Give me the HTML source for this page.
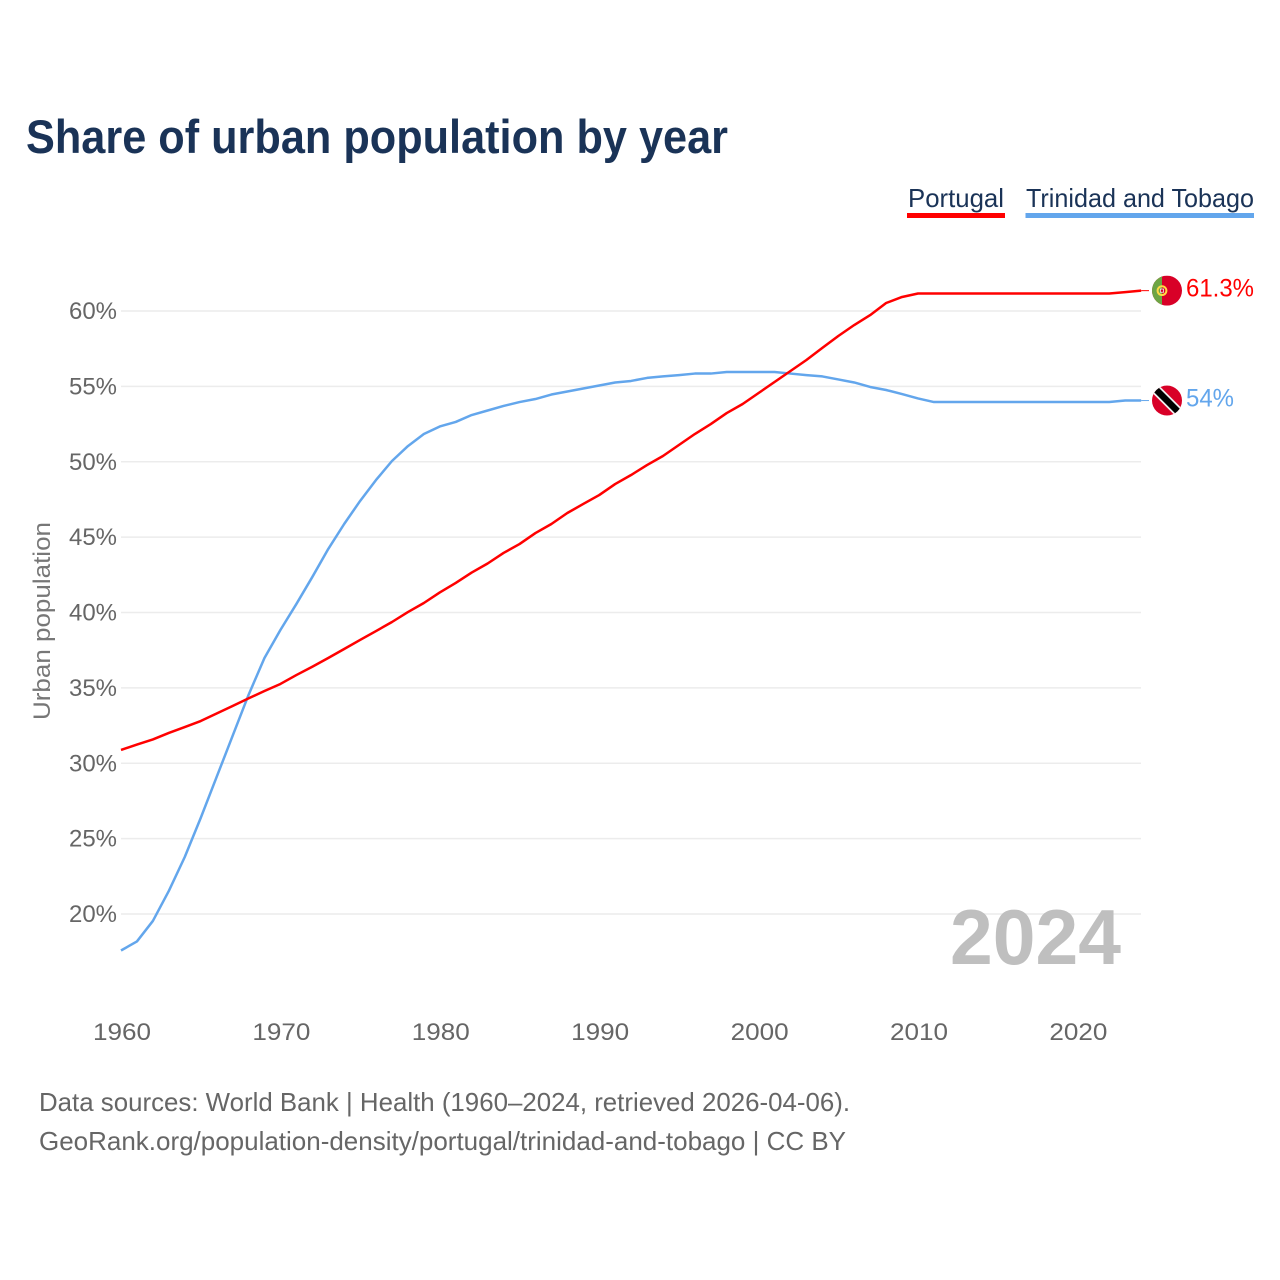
<!DOCTYPE html>
<html lang="en">
<head>
<meta charset="utf-8">
<title>Share of urban population by year</title>
<style>
html,body{margin:0;padding:0;background:#fff;width:1280px;height:1280px;overflow:hidden}
svg{display:block;font-family:"Liberation Sans",sans-serif}
</style>
</head>
<body>
<svg id="chart" width="1280" height="1280" viewBox="0 0 1280 1280" xmlns="http://www.w3.org/2000/svg">
  <rect width="1280" height="1280" fill="#fff"/>
  <text x="26" y="153" font-size="47" font-weight="700" fill="#1a3357" textLength="702" lengthAdjust="spacingAndGlyphs">Share of urban population by year</text>

  <g>
    <text x="908" y="207" font-size="26" fill="#1a3357" textLength="96" lengthAdjust="spacingAndGlyphs">Portugal</text>
    <rect x="907" y="213" width="98" height="5" fill="#ff0000"/>
  </g>
  <g>
    <text x="1026" y="207" font-size="26" fill="#1a3357" textLength="228" lengthAdjust="spacingAndGlyphs">Trinidad and Tobago</text>
    <rect x="1025.5" y="213" width="228.5" height="5" fill="#63a6ec"/>
  </g>

  <g id="grid"></g>
  <g id="yticks"></g>
  <g id="xticks"></g>

  <text transform="translate(50,720) rotate(-90)" x="0" y="0" font-size="24" fill="#777" textLength="198" lengthAdjust="spacingAndGlyphs">Urban population</text>

  <text x="950" y="964" font-size="78" font-weight="700" fill="#bfbfbf" textLength="171" lengthAdjust="spacingAndGlyphs">2024</text>

  <g id="series"></g>

  <defs>
    <clipPath id="flag-clip"><circle cx="0" cy="0" r="15"/></clipPath>
  </defs>

  <g id="flag-pt">
    <g clip-path="url(#flag-clip)">
      <rect x="-15" y="-15" width="30" height="30" fill="#d80027"/>
      <rect x="-15" y="-15" width="10" height="30" fill="#6da544"/>
      <circle cx="-5" cy="0" r="4.4" fill="none" stroke="#ffda44" stroke-width="2"/>
      <rect x="-6.6" y="-1.6" width="3.2" height="3.2" fill="#d80027" stroke="#eee" stroke-width="0.8"/>
    </g>
  </g>
  <g id="flag-tt">
    <g clip-path="url(#flag-clip)">
      <rect x="-15" y="-15" width="30" height="30" fill="#d80027"/>
      <line x1="-15" y1="-15" x2="15" y2="15" stroke="#f0f0f0" stroke-width="10"/>
      <line x1="-15" y1="-15" x2="15" y2="15" stroke="#000" stroke-width="6.5"/>
    </g>
  </g>

  <text x="39" y="1111" font-size="26" fill="#666" textLength="811" lengthAdjust="spacingAndGlyphs">Data sources: World Bank | Health (1960–2024, retrieved 2026-04-06).</text>
  <a><text x="39" y="1150" font-size="26" fill="#666" textLength="807" lengthAdjust="spacingAndGlyphs">GeoRank.org/population-density/portugal/trinidad-and-tobago | CC BY</text></a>
</svg>

<script>
const years = [1960,1961,1962,1963,1964,1965,1966,1967,1968,1969,1970,1971,1972,1973,1974,1975,1976,1977,1978,1979,1980,1981,1982,1983,1984,1985,1986,1987,1988,1989,1990,1991,1992,1993,1994,1995,1996,1997,1998,1999,2000,2001,2002,2003,2004,2005,2006,2007,2008,2009,2010,2011,2012,2013,2014,2015,2016,2017,2018,2019,2020,2021,2022,2023,2024];
const portugal = [30.88,31.24,31.58,32.01,32.4,32.8,33.3,33.8,34.3,34.79,35.26,35.85,36.4,36.98,37.58,38.18,38.77,39.37,40.03,40.63,41.33,41.96,42.65,43.25,43.95,44.54,45.27,45.87,46.6,47.2,47.79,48.52,49.12,49.78,50.38,51.11,51.84,52.5,53.23,53.83,54.56,55.29,56.02,56.75,57.55,58.34,59.07,59.73,60.53,60.93,61.16,61.16,61.16,61.16,61.16,61.16,61.16,61.16,61.16,61.16,61.16,61.16,61.16,61.25,61.35];
const trinidad = [17.58,18.18,19.54,21.53,23.78,26.37,29.09,31.81,34.53,36.98,38.84,40.56,42.35,44.21,45.87,47.4,48.79,50.05,51.04,51.84,52.34,52.64,53.1,53.4,53.7,53.96,54.16,54.46,54.66,54.86,55.06,55.26,55.36,55.56,55.66,55.75,55.85,55.85,55.95,55.95,55.95,55.95,55.85,55.75,55.66,55.46,55.26,54.96,54.76,54.49,54.2,53.96,53.96,53.96,53.96,53.96,53.96,53.96,53.96,53.96,53.96,53.96,53.96,54.06,54.06];
const yTickValues = [20,25,30,35,40,45,50,55,60];
const yTickLabels = ['20%','25%','30%','35%','40%','45%','50%','55%','60%'];
const xTickValues = [1960,1970,1980,1990,2000,2010,2020];
const xTickLabels = ['1960','1970','1980','1990','2000','2010','2020'];
const portugalLabel = '61.3%';
const trinidadLabel = '54%';

const NS = 'http://www.w3.org/2000/svg';
const xScale = function (year) { return 121 + (year - 1960) * 15.94; };
const yScale = function (pct) { return 311 + (60 - pct) * 15.075; };

function make(tag, parent, attrs, text) {
  const el = document.createElementNS(NS, tag);
  Object.keys(attrs).forEach(function (k) { el.setAttribute(k, attrs[k]); });
  if (text !== undefined) el.textContent = text;
  parent.appendChild(el);
  return el;
}

const gridLayer = document.getElementById('grid');
const yLayer = document.getElementById('yticks');
const xLayer = document.getElementById('xticks');
const seriesLayer = document.getElementById('series');
const chartRoot = document.getElementById('chart');

yTickValues.forEach(function (v, i) {
  const y = yScale(v);
  const line = make('line', gridLayer, {x1: 121, x2: 1141, y1: y, y2: y, stroke: '#ececec', 'stroke-width': 1.5});
  
  
  const label = make('text', yLayer, {x: 117, y: y + 8, 'text-anchor': 'end', 'font-size': 24, fill: '#666', textLength: 48, lengthAdjust: 'spacingAndGlyphs'}, yTickLabels[i]);
  
  
});

xTickValues.forEach(function (v, i) {
  const label = make('text', xLayer, {x: xScale(v) + 1, y: 1040, 'text-anchor': 'middle', 'font-size': 24, fill: '#666', textLength: 58, lengthAdjust: 'spacingAndGlyphs'}, xTickLabels[i]);
  
  
});

function pathFor(values) {
  return values.map(function (v, i) {
    return (i ? 'L' : 'M') + xScale(years[i]).toFixed(2) + ' ' + yScale(v).toFixed(2);
  }).join(' ');
}

const trinidadPath = make('path', seriesLayer, {d: pathFor(trinidad), fill: 'none', stroke: '#63a6ec', 'stroke-width': 2.5, 'stroke-linejoin': 'round'});


const portugalPath = make('path', seriesLayer, {d: pathFor(portugal), fill: 'none', stroke: '#ff0000', 'stroke-width': 2.5, 'stroke-linejoin': 'round'});



const lastX = xScale(years[years.length - 1]);
const ptY = yScale(portugal[portugal.length - 1]);
const ttY = yScale(trinidad[trinidad.length - 1]);

const ptConnector = make('line', seriesLayer, {x1: lastX, x2: 1149, y1: ptY, y2: ptY, stroke: '#ff0000', 'stroke-width': 1});


const ttConnector = make('line', seriesLayer, {x1: lastX, x2: 1149, y1: ttY, y2: ttY, stroke: '#63a6ec', 'stroke-width': 1});



document.getElementById('flag-pt').setAttribute('transform', 'translate(1167,' + ptY.toFixed(2) + ')');
document.getElementById('flag-tt').setAttribute('transform', 'translate(1167,' + ttY.toFixed(2) + ')');

const ptValue = make('text', chartRoot, {x: 1186, y: ptY + 6, 'font-size': 25, fill: '#ff0000', textLength: 68, lengthAdjust: 'spacingAndGlyphs'}, portugalLabel);


const ttValue = make('text', chartRoot, {x: 1186, y: ttY + 6, 'font-size': 25, fill: '#63a6ec', textLength: 48, lengthAdjust: 'spacingAndGlyphs'}, trinidadLabel);


</script>
</body>
</html>
